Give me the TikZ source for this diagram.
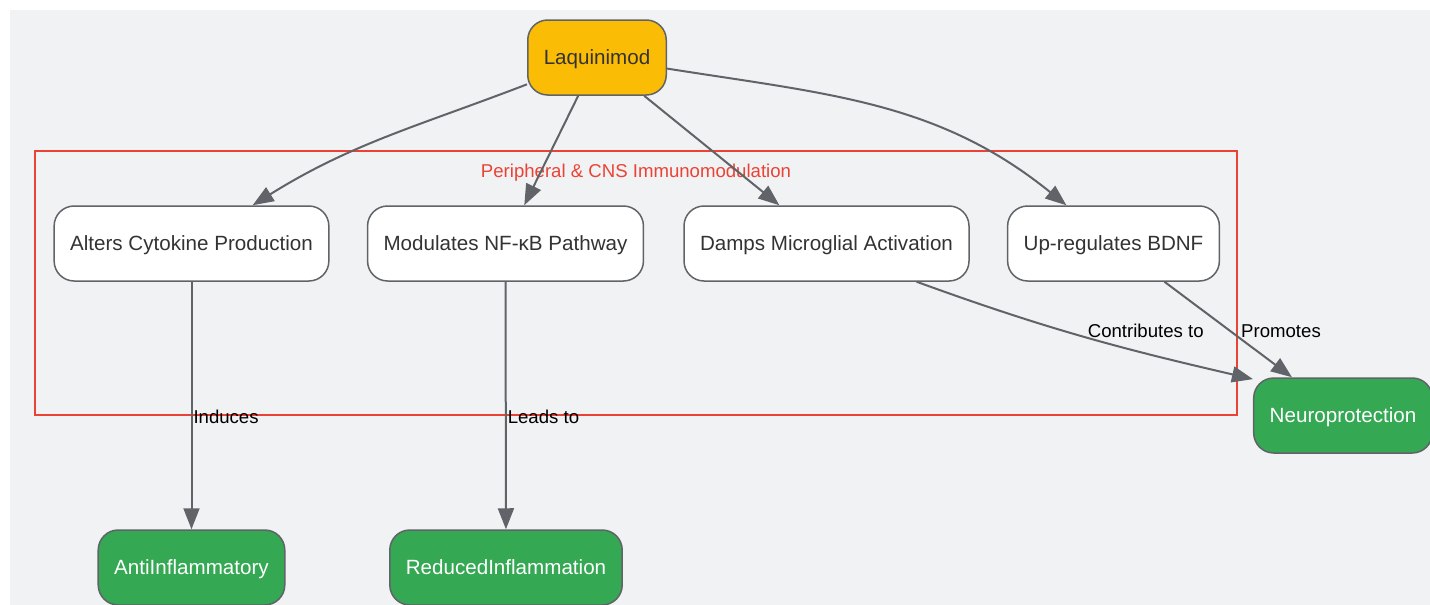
\documentclass[tikz,border=0pt]{standalone}
\usepackage{fontspec}
\setmainfont{Liberation Sans}
\usetikzlibrary{arrows.meta}
\definecolor{bggrey}{HTML}{F1F2F4}
\definecolor{edgegrey}{HTML}{606368}
\definecolor{laqyellow}{HTML}{FBBC05}
\definecolor{outgreen}{HTML}{34A853}
\definecolor{clusterred}{HTML}{EA4335}
\definecolor{txtgrey}{HTML}{333333}
\tikzset{
  box/.style={rounded corners=20pt, draw=edgegrey, line width=1.5pt, fill=white,
    minimum height=75pt, inner xsep=16pt, text=txtgrey, text height=19pt, text depth=4.5pt,
    font=\fontsize{20.6}{24}\selectfont},
  drug/.style={box, fill=laqyellow},
  effect/.style={box, fill=outgreen, text=white},
  link/.style={draw=edgegrey, line width=2pt, -{Triangle[length=21pt,width=16pt]}},
  lbl/.style={font=\fontsize{18.6}{22}\selectfont, text=black, inner sep=1pt}
}
\begin{document}
\begin{tikzpicture}[x=1pt,y=1pt]
\useasboundingbox (0,0) rectangle (1430,-605);
\fill[bggrey] (10,-10) rectangle (1430,-605);
% cluster
\draw[clusterred, line width=1.8pt] (35,-151) rectangle (1237,-415);
\node[font=\fontsize{18.6}{22}\selectfont, text=clusterred] (clusterlbl) at (636,-173) {Peripheral \& CNS Immunomodulation};
% nodes
\node[drug] (laq) at (597,-57.5) {Laquinimod};
\node[box] (cyto) at (191.5,-243.5) {Alters Cytokine Production};
\node[box] (nfkb) at (505.5,-243.5) {Modulates NF-κB Pathway};
\node[box] (micro) at (826.5,-243.5) {Damps Microglial Activation};
\node[box] (bdnf) at (1113.5,-243.5) {Up-regulates BDNF};
\node[effect] (anti) at (191.5,-567.5) {AntiInflammatory};
\node[effect] (reduced) at (506,-567.5) {ReducedInflammation};
\node[effect] (neuro) at (1343,-415.5) {Neuroprotection};
% edges
\path
  (laq) edge[link, out=201, in=32] (cyto)
  (laq) edge[link] (nfkb)
  (laq) edge[link] (micro)
  (laq) edge[link, out=-9, in=141] (bdnf);
\path
  (cyto) edge[link] node[lbl, pos=.54, anchor=west, yshift=-1pt] {Induces} (anti)
  (nfkb) edge[link] node[lbl, pos=.54, anchor=west, yshift=-1pt] {Leads to} (reduced)
  (micro.-23) edge[link, out=-20, in=167] node[lbl, pos=.7, above=14pt] {Contributes to} (neuro.158)
  (bdnf) edge[link] node[lbl, pos=.5, anchor=west, xshift=11pt, yshift=-2pt] {Promotes} (neuro);
\end{tikzpicture}
\end{document}
